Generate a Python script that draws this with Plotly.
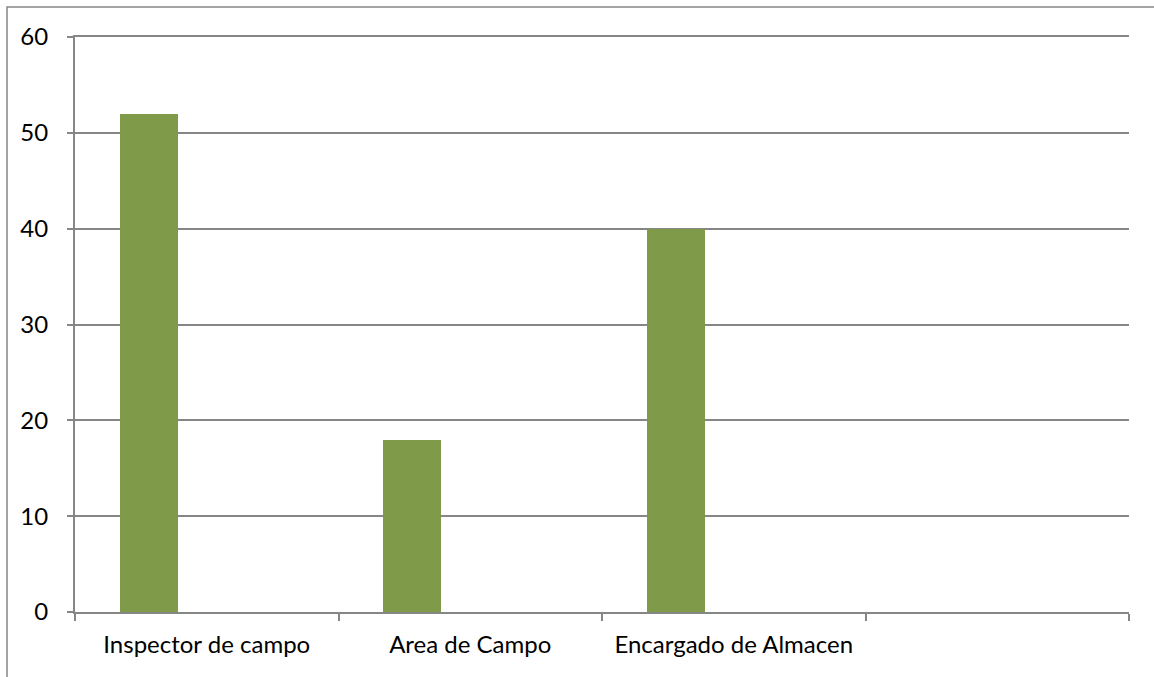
import plotly.graph_objects as go

# Chart data
categories = ["Inspector de campo", "Area de Campo", "Encargado de Almacen", " "]
values = [52, 18, 40, 0]
y_ticks = [0, 10, 20, 30, 40, 50, 60]

BAR_COLOR = "#7F9A48"
LINE_COLOR = "#868686"
FONT = "Lato, Carlito, 'Open Sans', sans-serif"
FONT_SIZE = 24

fig = go.Figure()
fig.add_trace(go.Bar(
    x=categories,
    y=values,
    width=0.22,
    offset=-0.33,
    marker=dict(color=BAR_COLOR, line=dict(width=0)),
    showlegend=False,
))

fig.update_layout(
    width=1154,
    height=677,
    margin=dict(l=75, r=25, t=37, b=65),
    paper_bgcolor="white",
    plot_bgcolor="white",
    font=dict(family=FONT, size=FONT_SIZE, color="black"),
    xaxis=dict(
        type="category",
        categoryorder="array",
        categoryarray=categories,
        tickson="boundaries",
        ticks="outside",
        ticklen=7,
        tickwidth=2,
        tickcolor=LINE_COLOR,
        showline=True,
        mirror=True,
        linecolor=LINE_COLOR,
        linewidth=2,
        showgrid=False,
        tickfont=dict(family=FONT, size=FONT_SIZE, color="black"),
        ticklabelstandoff=10,
        fixedrange=True,
    ),
    yaxis=dict(
        range=[0, 60],
        tickvals=y_ticks,
        ticks="outside",
        ticklen=6,
        tickwidth=2,
        tickcolor=LINE_COLOR,
        showline=True,
        linecolor=LINE_COLOR,
        linewidth=2,
        showgrid=True,
        gridcolor=LINE_COLOR,
        gridwidth=1.5,
        zeroline=False,
        tickfont=dict(family=FONT, size=FONT_SIZE, color="black"),
        ticklabelstandoff=14,
        fixedrange=True,
    ),
    bargap=0,
    shapes=[
        # outer chart frame (extends past the right and bottom edges)
        dict(type="rect", xref="paper", yref="paper",
             x0=-68 / 1054, x1=1.05, y0=-0.2, y1=1 + 30 / 575,
             line=dict(color=LINE_COLOR, width=1.5), layer="below"),
    ],
)

fig.write_html("out.html")
